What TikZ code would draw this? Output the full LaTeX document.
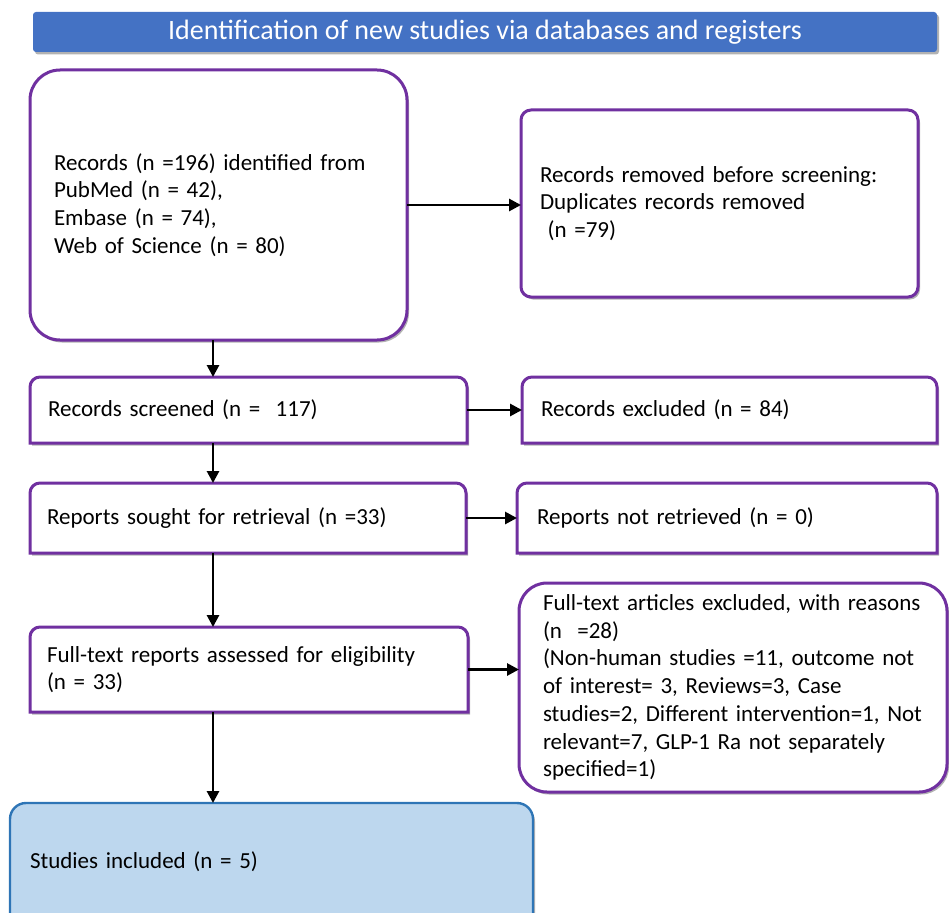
\documentclass[tikz,border=0pt]{standalone}
\usepackage{fontspec}
\setmainfont{Carlito}
\usetikzlibrary{arrows.meta,shadows,backgrounds}

\definecolor{purp}{HTML}{7030A0}
\definecolor{hdrblue}{HTML}{4472C4}
\definecolor{incfill}{HTML}{BDD7EE}
\definecolor{incline}{HTML}{2E75B6}

% outline with only the two upper corners rounded
\newcommand{\topround}[3]{%
  \path[#3] (#1.south west) -- ([yshift=-#2]#1.north west)
    arc[start angle=180,end angle=90,radius=#2] -- ([xshift=-#2]#1.north east)
    arc[start angle=90,end angle=0,radius=#2] -- (#1.south east) -- cycle;}

\begin{document}
\begin{tikzpicture}[x=1pt,y=-1pt,
  every node/.style={outer sep=0pt},
  boxshadow/.style={drop shadow={shadow xshift=2pt,shadow yshift=-2.5pt,fill=black,opacity=0.3}},
  stage/.style={font=\fontsize{23}{27.7}\selectfont,align=left,anchor=north west,inner ysep=0pt},
  purpbox/.style={stage,draw=purp,line width=3pt,fill=white,rounded corners=#1,boxshadow},
  purpline/.style={draw=purp,line width=3pt,fill=white,boxshadow},
  flow/.style={line width=2.8pt,-{Triangle[length=12pt,width=12pt]}}]
\useasboundingbox (0,0) rectangle (949,912);

\node[fill=hdrblue,text=white,font=\fontsize{28}{32}\selectfont,anchor=north west,
  minimum width=904pt,minimum height=40pt,inner sep=0pt,rounded corners=3pt,boxshadow]
  (head) at (33,12) {Identification of new studies via databases and registers};

\node[purpbox=30pt,text width=329pt,inner xsep=24pt,minimum height=270pt] (ident) at (30,70)
  {Records (n =196) identified from\\PubMed (n = 42),\\Embase (n = 74),\\Web of Science (n = 80)};
\node[purpbox=10pt,text width=359pt,inner xsep=19pt,minimum height=187pt] (removed) at (521,110)
  {\mbox{Records removed before screening:}\\Duplicates records removed\\~(n =79)};

\node[stage,text width=401pt,inner xsep=18pt,minimum height=66pt] (scr) at (30,377)
  {Records screened (n =~~117)};
\node[stage,text width=377pt,inner xsep=19pt,minimum height=66pt] (excl) at (522,377)
  {Records excluded (n = 84)};

\node[stage,text width=402pt,inner xsep=17pt,minimum height=70pt] (sought) at (30,483)
  {Reports sought for retrieval (n =33)};
\node[stage,text width=380pt,inner xsep=20pt,minimum height=70pt] (notret) at (517,483)
  {Reports not retrieved (n = 0)};

\node[stage,text width=404pt,inner xsep=17pt,minimum height=85pt] (full) at (30,627)
  {\mbox{Full-text reports assessed for eligibility}\\(n = 33)};
\node[purpbox=28pt,text width=380pt,inner xsep=24pt,minimum height=209pt] (reasons) at (519,583)
  {\mbox{Full-text articles excluded, with reasons}\\(n~~=28)\\
   \mbox{(Non-human studies =11, outcome not}\\\mbox{of interest= 3, Reviews=3, Case}\\
   \mbox{studies=2, Different intervention=1, Not}\\\mbox{relevant=7, GLP-1 Ra not separately}\\specified=1)};

\node[stage,text width=483pt,inner xsep=20pt,minimum height=118pt] (incl) at (10,803)
  {Studies included (n = 5)};

\begin{pgfonlayer}{background}
\topround{scr}{10pt}{purpline}
\topround{excl}{10pt}{purpline}
\topround{sought}{10pt}{purpline}
\topround{notret}{10pt}{purpline}
\topround{full}{10pt}{purpline}
\topround{incl}{16pt}{draw=incline,line width=2.4pt,fill=incfill,boxshadow}
\end{pgfonlayer}

\coordinate (spine) at (213,0);
\draw[flow] (ident.south -| spine) -- (scr.north -| spine);
\draw[flow] (scr.south -| spine) -- (sought.north -| spine);
\draw[flow] (sought.south -| spine) -- (full.north -| spine);
\draw[flow] (full.south -| spine) -- (incl.north -| spine);
\draw[flow] (ident.east) -- (ident.east -| removed.west);
\draw[flow] (scr.east) -- (scr.east -| excl.west);
\draw[flow] (sought.east) -- (sought.east -| notret.west);
\draw[flow] (full.east) -- (full.east -| reasons.west);
\end{tikzpicture}
\end{document}
